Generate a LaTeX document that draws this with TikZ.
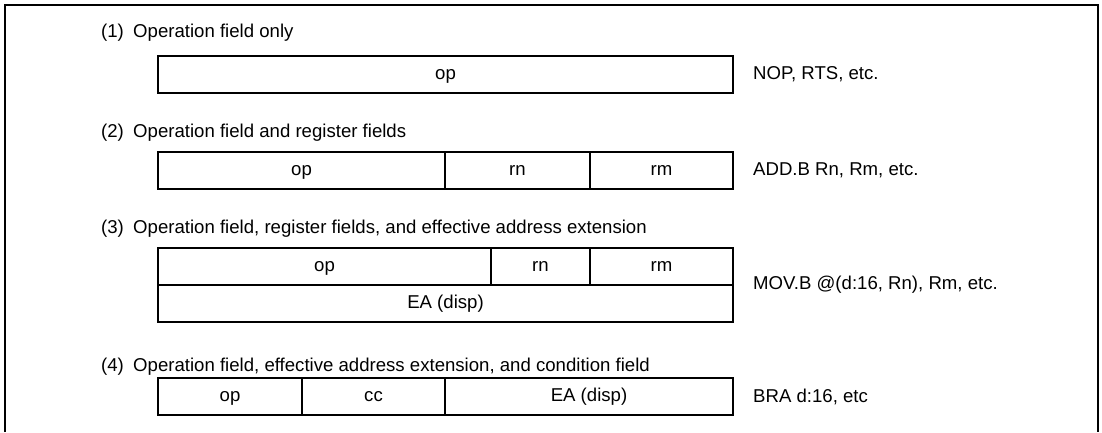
\documentclass[tikz,border=0pt]{standalone}
\usepackage{fontspec}
\setmainfont{Liberation Sans}
\usepackage{tikz}
\usetikzlibrary{positioning}

\begin{document}
\begin{tikzpicture}[x=1pt, y=-1pt,
        field/.style={draw, line width=1.7pt, outer sep=0pt, minimum height=37pt, inner sep=0pt,
            text height=9.6pt, text depth=0pt, anchor=north west},
        title/.style={anchor=west, inner sep=0pt},
        example/.style={inner sep=0pt},
        font=\fontsize{18.6}{21}\selectfont]
        \useasboundingbox (0,0) rectangle (1102,432);

        % Outer frame (open at the bottom)
        \draw[line width=2pt] (5,432) -- (5,5) -- (1098,5) -- (1098,432);

        % (1) Operation field only
        \node[title] (title1) at (101,33) {(1)\hspace{0.5em}Operation field only};
        \node[field, minimum width=575pt] (op1) at (158,56) {op};
        \node[example, right=20pt of op1] (ex1) {NOP, RTS, etc.};

        % (2) Operation field and register fields
        \node[title] (title2) at (101,133) {(2)\hspace{0.5em}Operation field and register fields};
        \node[field, minimum width=287pt] (op2) at (158,152) {op};
        \node[field, minimum width=145pt, right=0pt of op2] (rn2) {rn};
        \node[field, minimum width=143pt, right=0pt of rn2] (rm2) {rm};
        \node[example, right=20pt of rm2] (ex2) {ADD.B Rn, Rm, etc.};

        % (3) Operation field, register fields, and effective address extension
        \node[title] (title3) at (101,229) {(3)\hspace{0.5em}Operation field, register fields, and effective address extension};
        \node[field, minimum width=333pt] (op3) at (158,248) {op};
        \node[field, minimum width=99pt, right=0pt of op3] (rn3) {rn};
        \node[field, minimum width=143pt, right=0pt of rn3] (rm3) {rm};
        \node[field, minimum width=575pt, below=0pt of op3.south west, anchor=north west] (ea3) {EA (disp)};
        \node[example, anchor=west, right=20pt of rm3.south east] (ex3) {MOV.B @(d:16, Rn), Rm, etc.};

        % (4) Operation field, effective address extension, and condition field
        \node[title] (title4) at (101,367) {(4)\hspace{0.5em}Operation field, effective address extension, and condition field};
        \node[field, minimum width=144pt] (op4) at (158,378) {op};
        \node[field, minimum width=143pt, right=0pt of op4] (cc4) {cc};
        \node[field, minimum width=288pt, right=0pt of cc4] (ea4) {EA (disp)};
        \node[example, right=20pt of ea4] (ex4) {BRA d:16, etc};
\end{tikzpicture}
\end{document}
